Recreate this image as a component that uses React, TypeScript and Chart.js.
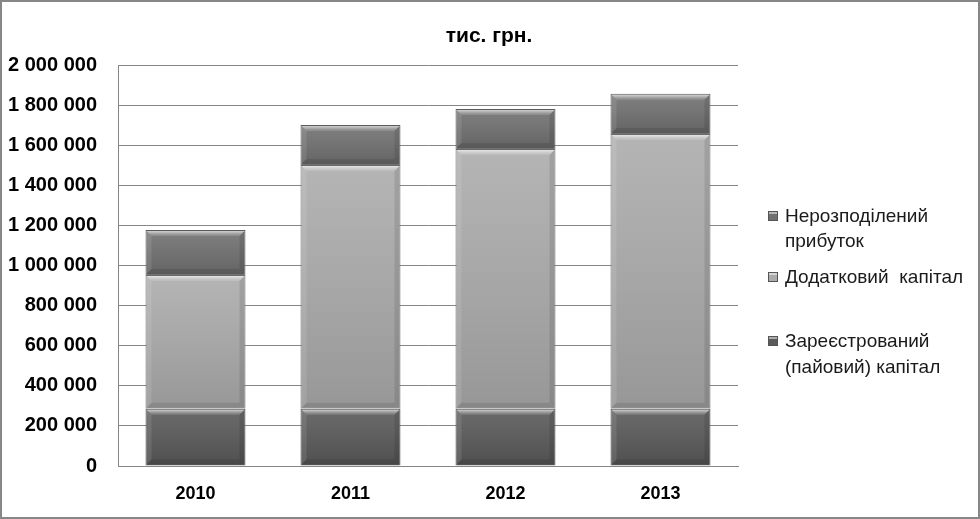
import React, { useEffect, useRef } from "react";
import { Chart, registerables } from "chart.js";

Chart.register(...registerables);

const years = ["2010", "2011", "2012", "2013"];
const registeredCapital = [285000, 285000, 285000, 285000];
const additionalCapital = [668000, 1216000, 1296000, 1371000];
const retainedEarnings = [224000, 200000, 200000, 200000];

const titleText = "тис. грн.";
const legendRetained = ["Нерозподілений", "прибуток"];
const legendAdditional = ["Додатковий  капітал"];
const legendRegistered = ["Зареєстрований", "(пайовий) капітал"];

const fmt = (v: number) => String(Math.round(v)).replace(/\B(?=(\d{3})+(?!\d))/g, " ");

const bevelPlugin = {
  id: "bevel",
  afterDatasetsDraw(chart: any) {
    const ctx = chart.ctx;
    chart.data.datasets.forEach((_: any, di: number) => {
      const meta = chart.getDatasetMeta(di);
      meta.data.forEach((el: any) => {
        const { x, y, base, width } = el.getProps(["x", "y", "base", "width"], true);
        const l = x - width / 2;
        const r = x + width / 2;
        const t = Math.min(y, base);
        const b = Math.max(y, base);
        const h = b - t;
        const bv = Math.min(5, h / 3);
        ctx.save();
        const g = ctx.createLinearGradient(0, t, 0, b);
        g.addColorStop(0, "rgba(255,255,255,0.10)");
        g.addColorStop(1, "rgba(0,0,0,0.12)");
        ctx.fillStyle = g;
        ctx.fillRect(l + 1, t + 1, width - 2, h - 2);
        // top bevel
        ctx.beginPath();
        ctx.moveTo(l + 1, t + 1);
        ctx.lineTo(r - 1, t + 1);
        ctx.lineTo(r - 1 - bv, t + 1 + bv);
        ctx.lineTo(l + 1 + bv, t + 1 + bv);
        ctx.closePath();
        const gt = ctx.createLinearGradient(0, t, 0, t + bv);
        gt.addColorStop(0, "rgba(255,255,255,0.75)");
        gt.addColorStop(1, "rgba(255,255,255,0.15)");
        ctx.fillStyle = gt;
        ctx.fill();
        // bottom bevel
        ctx.beginPath();
        ctx.moveTo(l + 1, b - 1);
        ctx.lineTo(r - 1, b - 1);
        ctx.lineTo(r - 1 - bv, b - 1 - bv);
        ctx.lineTo(l + 1 + bv, b - 1 - bv);
        ctx.closePath();
        ctx.fillStyle = "rgba(0,0,0,0.10)";
        ctx.fill();
        // left bevel
        ctx.beginPath();
        ctx.moveTo(l + 1, t + 1);
        ctx.lineTo(l + 1 + bv, t + 1 + bv);
        ctx.lineTo(l + 1 + bv, b - 1 - bv);
        ctx.lineTo(l + 1, b - 1);
        ctx.closePath();
        ctx.fillStyle = "rgba(255,255,255,0.10)";
        ctx.fill();
        // right bevel
        ctx.beginPath();
        ctx.moveTo(r - 1, t + 1);
        ctx.lineTo(r - 1 - bv, t + 1 + bv);
        ctx.lineTo(r - 1 - bv, b - 1 - bv);
        ctx.lineTo(r - 1, b - 1);
        ctx.closePath();
        ctx.fillStyle = "rgba(0,0,0,0.10)";
        ctx.fill();
        ctx.restore();
      });
    });
  },
};

const decorPlugin = {
  id: "decor",
  afterDraw(chart: any) {
    const ctx = chart.ctx;
    ctx.save();
    ctx.fillStyle = "#000";
    ctx.font = "bold 21px 'Liberation Sans', Arial, sans-serif";
    ctx.textAlign = "center";
    ctx.textBaseline = "middle";
    ctx.fillText(titleText, 487, 34);

    const items = [
      { lines: legendRetained, color: "#707070", ys: [214, 239] },
      { lines: legendAdditional, color: "#ababab", ys: [275] },
      { lines: legendRegistered, color: "#5a5a5a", ys: [339, 365] },
    ];
    ctx.font = "19px 'Liberation Sans', Arial, sans-serif";
    ctx.textAlign = "left";
    items.forEach((it) => {
      const my = it.ys[0];
      const mx = 766;
      const s = 10;
      ctx.fillStyle = it.color;
      ctx.fillRect(mx, my - s / 2, s, s);
      ctx.strokeStyle = "#555";
      ctx.lineWidth = 1;
      ctx.strokeRect(mx + 0.5, my - s / 2 + 0.5, s - 1, s - 1);
      ctx.fillStyle = "rgba(255,255,255,0.5)";
      ctx.fillRect(mx + 1, my - s / 2 + 1, s - 2, 2);
      ctx.fillStyle = "#1a1a1a";
      it.lines.forEach((ln, i) => ctx.fillText(ln, 783, it.ys[i] + 1));
    });
    ctx.restore();
  },
};

export default function App() {
  const ref = useRef<HTMLCanvasElement>(null);
  useEffect(() => {
    document.body.style.margin = "0";
    const canvas = ref.current!;
    const chart = new Chart(canvas, {
      type: "bar",
      data: {
        labels: years,
        datasets: [
          {
            label: "Зареєстрований (пайовий) капітал",
            data: registeredCapital,
            backgroundColor: "#5a5a5a",
            borderColor: "#4e4e4e",
            borderWidth: 1,
          },
          {
            label: "Додатковий  капітал",
            data: additionalCapital,
            backgroundColor: "#acacac",
            borderColor: "#6a6a6a",
            borderWidth: 1,
          },
          {
            label: "Нерозподілений прибуток",
            data: retainedEarnings,
            backgroundColor: "#717171",
            borderColor: "#5a5a5a",
            borderWidth: 1,
          },
        ],
      },
      options: {
        responsive: false,
        animation: false,
        layout: { padding: { top: 63, right: 240, left: 0, bottom: 0 } },
        datasets: { bar: { categoryPercentage: 1, barPercentage: 0.645 } } as any,
        plugins: {
          legend: { display: false },
          title: { display: false },
          tooltip: { enabled: false },
        },
        scales: {
          x: {
            stacked: true,
            grid: { display: false, drawTicks: false },
            border: { display: true, color: "#868686", width: 1 },
            ticks: {
              color: "#000",
              padding: 17,
              font: { family: "'Liberation Sans', Arial, sans-serif", size: 18, weight: "bold" },
            },
            afterFit(scale: any) {
              scale.height = 51;
            },
          },
          y: {
            stacked: true,
            min: 0,
            max: 2000000,
            grid: { color: "#868686", lineWidth: 1, drawTicks: false },
            border: { display: true, color: "#868686", width: 1 },
            ticks: {
              stepSize: 200000,
              color: "#000",
              padding: 21,
              font: { family: "'Liberation Sans', Arial, sans-serif", size: 20, weight: "bold" },
              callback: (v: any) => fmt(Number(v)),
            },
            afterFit(scale: any) {
              scale.width = 116;
            },
          },
        },
      },
      plugins: [bevelPlugin, decorPlugin],
    });
    return () => chart.destroy();
  }, []);

  return (
    <div
      style={{
        width: 980,
        height: 519,
        boxSizing: "border-box",
        border: "2px solid #878787",
        background: "#fff",
      }}
    >
      <canvas ref={ref} width={976} height={515} style={{ display: "block" }} />
    </div>
  );
}
